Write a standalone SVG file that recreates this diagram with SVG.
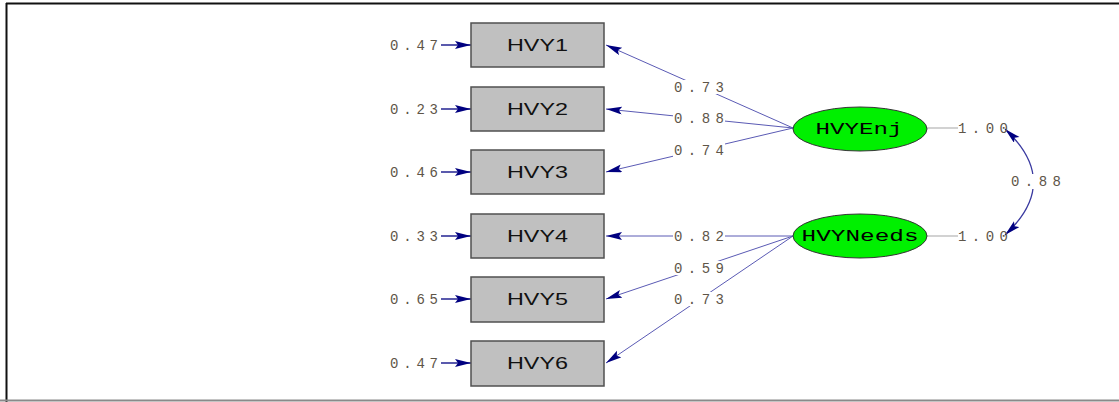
<svg xmlns="http://www.w3.org/2000/svg" width="1119" height="402" viewBox="0 0 1119 402">
  <style>
    .box { fill: #c0c0c0; stroke: #505050; stroke-width: 1.5; }
    .lat { fill: #00f000; stroke: #333333; stroke-width: 1; }
    .boxtxt { font-family: "Liberation Sans", Arial, sans-serif; font-size: 16px; fill: #111111; text-anchor: middle; }
    .lattxt { font-family: "Liberation Mono", "Courier New", monospace; font-size: 16px; fill: #000000; text-anchor: middle; }
    .num { font-family: "Liberation Mono", "Courier New", monospace; font-size: 14px; fill: #5e5548; }
    .path { stroke: #5a5ab4; stroke-width: 1; fill: none; }
    .err { stroke: #000080; stroke-width: 1.3; fill: none; }
    .var { stroke: #b4b4b4; stroke-width: 1.2; fill: none; }
    .cov { stroke: #3a3aa0; stroke-width: 1.3; fill: none; }
    .bg { fill: #ffffff; }
  </style>
  <defs>
    <marker id="head" markerUnits="userSpaceOnUse" markerWidth="18" markerHeight="10" refX="16" refY="4" orient="auto">
      <path d="M0,0 L16,4 L0,8 L3,4 z" fill="#000080"/>
    </marker>
    <marker id="headStart" markerUnits="userSpaceOnUse" markerWidth="18" markerHeight="10" refX="16" refY="4" orient="auto-start-reverse">
      <path d="M0,0 L16,4 L0,8 L3,4 z" fill="#000080"/>
    </marker>
  </defs>

  <!-- frame -->
  <rect x="0" y="0" width="1119" height="402" fill="#ffffff"/>
  <line x1="6" y1="3.5" x2="1119" y2="3.5" stroke="#111" stroke-width="2"/>
  <line x1="6.5" y1="3" x2="6.5" y2="402" stroke="#111" stroke-width="2"/>
  <line x1="0" y1="400.5" x2="1119" y2="400.5" stroke="#8a8a8a" stroke-width="2"/>

  <!-- connectors -->
  <g id="connectors">
    <!-- loadings from HVYEnj -->
    <line class="path" x1="793" y1="128" x2="606" y2="45" marker-end="url(#head)"/>
    <line class="path" x1="793" y1="128" x2="606" y2="109" marker-end="url(#head)"/>
    <line class="path" x1="793" y1="128" x2="606" y2="172" marker-end="url(#head)"/>
    <!-- loadings from HVYNeeds -->
    <line class="path" x1="793" y1="236" x2="606" y2="236" marker-end="url(#head)"/>
    <line class="path" x1="793" y1="236" x2="606" y2="299" marker-end="url(#head)"/>
    <line class="path" x1="793" y1="236" x2="606" y2="363" marker-end="url(#head)"/>
    <!-- error terms -->
    <line class="err" x1="441" y1="45" x2="471" y2="45" marker-end="url(#head)"/>
    <line class="err" x1="441" y1="109" x2="471" y2="109" marker-end="url(#head)"/>
    <line class="err" x1="441" y1="172" x2="471" y2="172" marker-end="url(#head)"/>
    <line class="err" x1="441" y1="236" x2="471" y2="236" marker-end="url(#head)"/>
    <line class="err" x1="441" y1="299" x2="471" y2="299" marker-end="url(#head)"/>
    <line class="err" x1="441" y1="363" x2="471" y2="363" marker-end="url(#head)"/>
    <!-- latent variances -->
    <line class="var" x1="927" y1="128" x2="958" y2="128"/>
    <line class="var" x1="927" y1="236" x2="958" y2="236"/>
    <!-- covariance -->
    <path class="cov" d="M1005,129 Q1062,182 1005,235" marker-start="url(#headStart)" marker-end="url(#head)"/>

    <!-- loading labels -->
    <rect class="bg" x="673" y="80" width="52" height="14"/>
    <text class="num" x="674" y="92" textLength="50" lengthAdjust="spacing">0.73</text>
    <rect class="bg" x="673" y="111" width="52" height="14"/>
    <text class="num" x="674" y="123" textLength="50" lengthAdjust="spacing">0.88</text>
    <rect class="bg" x="673" y="143" width="52" height="14"/>
    <text class="num" x="674" y="155" textLength="50" lengthAdjust="spacing">0.74</text>
    <rect class="bg" x="673" y="229" width="52" height="14"/>
    <text class="num" x="674" y="241" textLength="50" lengthAdjust="spacing">0.82</text>
    <rect class="bg" x="673" y="261" width="52" height="14"/>
    <text class="num" x="674" y="273" textLength="50" lengthAdjust="spacing">0.59</text>
    <rect class="bg" x="673" y="292" width="52" height="14"/>
    <text class="num" x="674" y="304" textLength="50" lengthAdjust="spacing">0.73</text>

    <!-- error labels -->
    <text class="num" x="390" y="50" textLength="48" lengthAdjust="spacing">0.47</text>
    <text class="num" x="390" y="114" textLength="48" lengthAdjust="spacing">0.23</text>
    <text class="num" x="390" y="177" textLength="48" lengthAdjust="spacing">0.46</text>
    <text class="num" x="390" y="241" textLength="48" lengthAdjust="spacing">0.33</text>
    <text class="num" x="390" y="304" textLength="48" lengthAdjust="spacing">0.65</text>
    <text class="num" x="390" y="368" textLength="48" lengthAdjust="spacing">0.47</text>

    <!-- variance and covariance labels -->
    <text class="num" x="958" y="133" textLength="50" lengthAdjust="spacing" fill="#3a3a4a">1.00</text>
    <text class="num" x="958" y="241" textLength="50" lengthAdjust="spacing" fill="#3a3a4a">1.00</text>
    <rect class="bg" x="1010" y="174" width="52" height="15"/>
    <text class="num" x="1011" y="186" textLength="50" lengthAdjust="spacing">0.88</text>
  </g>

  <!-- observed variables -->
  <g id="HVY1">
    <rect class="box" x="471" y="23" width="133" height="44"/>
    <text class="boxtxt" x="537.5" y="51" textLength="61" lengthAdjust="spacingAndGlyphs">HVY1</text>
  </g>
  <g id="HVY2">
    <rect class="box" x="471" y="87" width="133" height="44"/>
    <text class="boxtxt" x="537.5" y="115" textLength="61" lengthAdjust="spacingAndGlyphs">HVY2</text>
  </g>
  <g id="HVY3">
    <rect class="box" x="471" y="150" width="133" height="44"/>
    <text class="boxtxt" x="537.5" y="178" textLength="61" lengthAdjust="spacingAndGlyphs">HVY3</text>
  </g>
  <g id="HVY4">
    <rect class="box" x="471" y="214" width="133" height="44"/>
    <text class="boxtxt" x="537.5" y="242" textLength="61" lengthAdjust="spacingAndGlyphs">HVY4</text>
  </g>
  <g id="HVY5">
    <rect class="box" x="471" y="277" width="133" height="45"/>
    <text class="boxtxt" x="537.5" y="305" textLength="61" lengthAdjust="spacingAndGlyphs">HVY5</text>
  </g>
  <g id="HVY6">
    <rect class="box" x="471" y="341" width="133" height="45"/>
    <text class="boxtxt" x="537.5" y="369" textLength="61" lengthAdjust="spacingAndGlyphs">HVY6</text>
  </g>

  <!-- latent variables -->
  <g id="HVYEnj">
    <ellipse class="lat" cx="860" cy="129" rx="67" ry="22"/>
    <text class="lattxt" x="859" y="134" textLength="87" lengthAdjust="spacingAndGlyphs">HVYEnj</text>
  </g>
  <g id="HVYNeeds">
    <ellipse class="lat" cx="860" cy="236" rx="67" ry="22"/>
    <text class="lattxt" x="860" y="241" textLength="117" lengthAdjust="spacingAndGlyphs">HVYNeeds</text>
  </g>
</svg>
